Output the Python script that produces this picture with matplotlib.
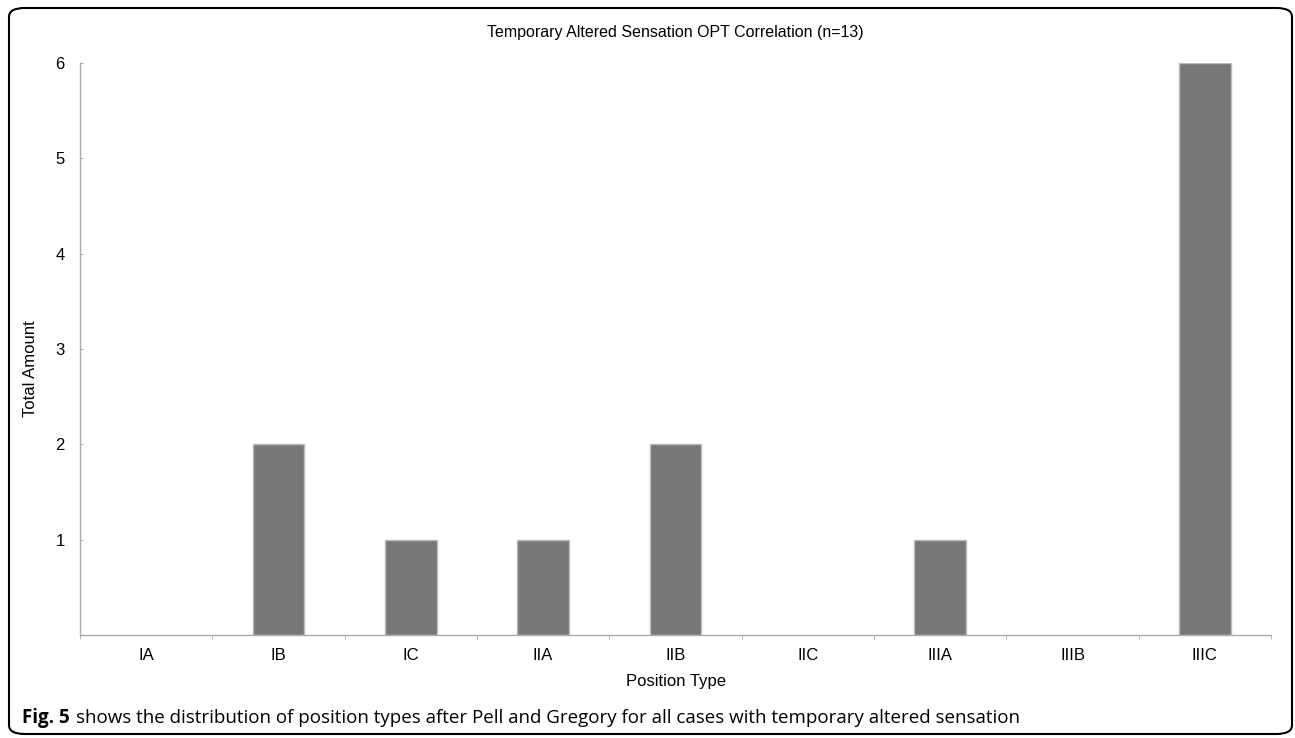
import matplotlib.pyplot as plt
from matplotlib.patches import FancyBboxPatch

categories = ["IA", "IB", "IC", "IIA", "IIB", "IIC", "IIIA", "IIIB", "IIIC"]
totals = [0, 2, 1, 1, 2, 0, 1, 0, 6]
yticks = [1, 2, 3, 4, 5, 6]

plt.rcParams['font.family'] = ['Liberation Sans', 'DejaVu Sans']
W, H = 1295, 738

fig = plt.figure(figsize=(W / 100, H / 100), dpi=100)
ax = fig.add_axes([80 / W, 1 - 635 / H, (1271 - 80) / W, (635 - 63) / H])

x = list(range(len(categories)))
edge = ['#bbbbbb' if v > 0 else 'none' for v in totals]
ax.bar(x, totals, width=0.39, color='#777777', edgecolor=edge, linewidth=1)

ax.set_xlim(-0.5, len(categories) - 0.5)
ax.set_ylim(0, 6)
ax.set_yticks(yticks)
ax.set_xticks(x)
ax.set_xticklabels(categories)
ax.set_xticks([i + 0.5 for i in range(-1, len(categories))], minor=True)
ax.tick_params(axis='x', which='major', length=0, pad=9, labelsize=12)
ax.tick_params(axis='x', which='minor', length=3, color='#aaaaaa', direction='out')
ax.tick_params(axis='y', length=2, color='#aaaaaa', direction='in', pad=11, labelsize=12)

for side in ['top', 'right']:
    ax.spines[side].set_visible(False)
for side in ['left', 'bottom']:
    ax.spines[side].set_color('#aaaaaa')
    ax.spines[side].set_linewidth(1)

ax.set_xlabel("Position Type", fontsize=12, labelpad=8)
ax.set_ylabel("Total Amount", fontsize=12)
ax.yaxis.set_label_coords(38 / W, 0.5, transform=fig.transFigure)
fig.text(675 / W, 1 - 33 / H, "Temporary Altered Sensation OPT Correlation (n=13)",
         ha='center', va='center', fontsize=11.5)

# rounded frame around the figure
frame = FancyBboxPatch((9 / W, 4 / H), 1283 / W, 726 / H,
                       boxstyle="round,pad=0,rounding_size=0.012",
                       transform=fig.transFigure, fill=False,
                       edgecolor='black', linewidth=1.5)
fig.patches.append(frame)

cap_font = ['Open Sans', 'DejaVu Sans']
t1 = fig.text(22 / W, 1 - 718 / H, "Fig. 5", fontweight='bold', fontsize=13.5,
              family=cap_font, va='center', ha='left')
fig.canvas.draw()
bb = t1.get_window_extent()
fig.text((bb.x1 + 6) / W, 1 - 718 / H,
         "shows the distribution of position types after Pell and Gregory for all cases with temporary altered sensation",
         fontsize=13.5, family=cap_font, va='center', ha='left')

plt.savefig("out.png", dpi=100)
